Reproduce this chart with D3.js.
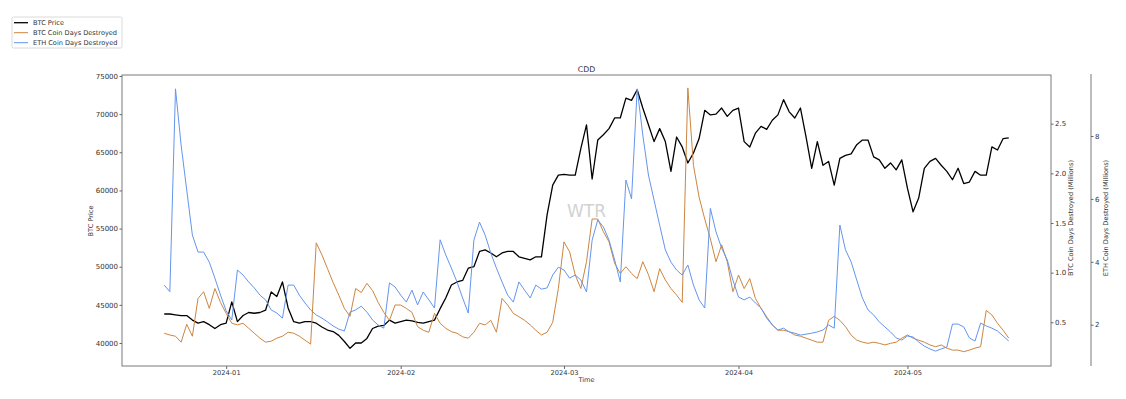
<!DOCTYPE html>
<html>
<head>
<meta charset="utf-8">
<script src="https://cdn.jsdelivr.net/npm/d3@7"></script>
<style>
  body { margin: 0; background: #fff; }
  text { font-family: "DejaVu Sans", sans-serif; fill: #333; }
</style>
</head>
<body>
<div id="chart"></div>
<script>
// daily samples, first day 2023-12-21
const startDay = new Date(Date.UTC(2023, 11, 21));

const btcPrice = [
  43800, 43800, 43700, 43600, 43600, 43000, 42600, 42800, 42400, 41900,
  42400, 42600, 45400, 42800, 43600, 44000, 43900, 44000, 44300, 46700,
  46100, 48000, 44600, 42800, 42600, 42800, 42800, 42600, 42100, 41700,
  41500, 41000, 40200, 39300, 40000, 40000, 40600, 41900, 42200, 42300,
  43000, 42600, 42800, 43000, 42900, 42700, 42600, 42800, 43000, 44500,
  45900, 47600, 48000, 48200, 49800, 50000, 52000, 52200, 51800, 51300,
  51800, 52000, 52000, 51300, 51100, 50900, 51300, 51300, 56800, 60700,
  62000, 62100, 62000, 62000, 65500, 68600, 61500, 66600, 67300, 68100,
  69500, 69500, 72100, 71800, 73200, 70800, 68600, 66400, 68100, 66400,
  62500, 67000, 65700, 63600, 64900, 66800, 70500, 69900, 70000, 70800,
  69700, 70500, 70800, 66400, 65700, 67500, 68400, 68000, 69200, 69900,
  71900, 70300, 69500, 70800, 67000, 62900, 66400, 63300, 63800, 60700,
  64200, 64600, 64800, 66000, 66600, 66600, 64400, 64000, 62900, 63600,
  62700, 64000, 60300, 57200, 59000, 62900, 63800, 64200, 63300, 62500,
  61400, 62900, 60900, 61100, 62500, 62000, 62000, 65700, 65300, 66800,
  66900
];

// millions
const btcCdd = [
  0.39, 0.372, 0.36, 0.30, 0.48, 0.36, 0.74, 0.808, 0.64, 0.84,
  0.70, 0.59, 0.49, 0.474, 0.49, 0.44, 0.39, 0.34, 0.30, 0.31,
  0.34, 0.36, 0.40, 0.39, 0.36, 0.32, 0.28, 1.30, 1.18, 1.04,
  0.90, 0.774, 0.64, 0.56, 0.84, 0.80, 0.892, 0.82, 0.70, 0.60,
  0.52, 0.674, 0.674, 0.64, 0.60, 0.456, 0.42, 0.40, 0.59, 0.49,
  0.44, 0.406, 0.39, 0.354, 0.34, 0.40, 0.49, 0.474, 0.52, 0.40,
  0.74, 0.674, 0.59, 0.556, 0.52, 0.474, 0.42, 0.372, 0.40, 0.50,
  0.84, 1.31, 1.21, 0.976, 0.84, 1.11, 1.54, 1.54, 1.412, 1.31,
  1.094, 0.992, 1.06, 0.992, 0.94, 1.11, 0.98, 0.808, 1.04, 0.926,
  0.84, 0.774, 0.70, 2.86, 2.08, 1.76, 1.54, 1.34, 1.11, 1.28,
  1.11, 0.808, 0.976, 0.84, 0.94, 0.74, 0.64, 0.556, 0.474, 0.42,
  0.42, 0.406, 0.372, 0.36, 0.34, 0.32, 0.30, 0.30, 0.52, 0.56,
  0.52, 0.456, 0.372, 0.32, 0.30, 0.288, 0.30, 0.288, 0.272, 0.288,
  0.30, 0.34, 0.372, 0.34, 0.32, 0.30, 0.272, 0.254, 0.272, 0.24,
  0.22, 0.22, 0.204, 0.22, 0.24, 0.254, 0.62, 0.574, 0.49, 0.42,
  0.34
];

// millions
const ethCdd = [
  3.26, 3.05, 9.5, 7.71, 6.28, 4.85, 4.31, 4.31, 3.99, 3.48,
  2.94, 2.44, 2.15, 3.74, 3.58, 3.36, 3.17, 2.94, 2.79, 2.47,
  2.37, 2.21, 3.26, 3.26, 2.94, 2.69, 2.47, 2.31, 2.21, 2.09,
  1.96, 1.86, 1.80, 2.40, 2.47, 2.59, 2.40, 2.15, 1.99, 1.89,
  3.33, 3.20, 2.94, 2.72, 3.10, 2.63, 3.04, 2.79, 2.53, 4.70,
  4.22, 3.80, 3.36, 2.85, 2.37, 4.69, 5.26, 4.85, 4.28, 3.80,
  3.36, 2.94, 2.72, 3.36, 3.10, 2.85, 3.26, 3.13, 3.17, 3.58,
  3.83, 3.74, 3.48, 3.58, 3.42, 3.04, 4.69, 5.33, 5.11, 4.69,
  4.06, 3.36, 6.60, 6.00, 9.50, 8.03, 6.76, 5.96, 5.16, 4.38,
  3.99, 3.74, 3.58, 3.90, 3.26, 2.79, 2.53, 5.70, 4.95, 4.44,
  4.06, 3.42, 2.88, 2.79, 2.88, 2.69, 2.53, 2.21, 1.99, 1.83,
  1.89, 1.77, 1.73, 1.67, 1.70, 1.73, 1.77, 1.83, 1.99, 1.89,
  5.17, 4.38, 4.00, 3.42, 2.85, 2.47, 2.31, 2.09, 1.93, 1.77,
  1.58, 1.51, 1.64, 1.61, 1.45, 1.32, 1.23, 1.16, 1.23, 1.29,
  2.02, 2.02, 1.93, 1.58, 1.48, 2.05, 1.96, 1.89, 1.80, 1.64,
  1.48
];

const dates = btcPrice.map((_, i) => d3.utcDay.offset(startDay, i));

const priceTicks = [40000, 45000, 50000, 55000, 60000, 65000, 70000, 75000];
const btcCddTicks = [0.5, 1.0, 1.5, 2.0, 2.5];
const ethCddTicks = [2, 4, 6, 8];
const monthTicks = d3.utcMonth.range(new Date(Date.UTC(2024, 0, 1)), new Date(Date.UTC(2024, 5, 1)));

const seriesNames = ['BTC Price', 'BTC Coin Days Destroyed', 'ETH Coin Days Destroyed'];
const seriesColors = ['#000000', '#cd853f', '#6495ed'];

const width = 1126, height = 399;
const margin = {top: 75, right: 75, bottom: 33, left: 122};
const plotW = 1051 - margin.left;
const plotH = 366 - margin.top;

const svg = d3.select('#chart').append('svg')
  .attr('width', width)
  .attr('height', height)
  .style('background', '#fff');

// x domain padded like matplotlib (5% each side)
const span = 150 * 0.05;
const x = d3.scaleUtc()
  .domain([d3.utcHour.offset(dates[0], -span * 24), d3.utcHour.offset(dates[dates.length - 1], span * 24)])
  .range([margin.left, margin.left + plotW]);

const yPrice = d3.scaleLinear().domain([36985, 75130]).range([366, 75]);
const yBtc = d3.scaleLinear().domain([0.06, 2.99]).range([366, 75]);
const yEth = d3.scaleLinear().domain([0.687, 9.94]).range([366, 75]);

// watermark
svg.append('text')
  .attr('x', margin.left + plotW / 2)
  .attr('y', 217)
  .attr('text-anchor', 'middle')
  .style('font-size', '17px')
  .style('fill', '#d2d2d2')
  .text('WTR');

svg.append('clipPath').attr('id', 'plot-clip')
  .append('rect')
  .attr('x', margin.left).attr('y', margin.top)
  .attr('width', plotW).attr('height', plotH);

const lines = svg.append('g').attr('clip-path', 'url(#plot-clip)');

const drawLine = (values, yScale, color, w) => {
  lines.append('path')
    .datum(values)
    .attr('fill', 'none')
    .attr('stroke', color)
    .attr('stroke-width', w)
    .attr('stroke-linejoin', 'round')
    .attr('d', d3.line()
      .x((d, i) => x(dates[i]))
      .y(d => yScale(d)));
};

drawLine(btcPrice, yPrice, seriesColors[0], 1.3);
drawLine(btcCdd, yBtc, seriesColors[1], 1);
drawLine(ethCdd, yEth, seriesColors[2], 1);

// frame
svg.append('rect')
  .attr('x', margin.left).attr('y', margin.top)
  .attr('width', plotW).attr('height', plotH)
  .attr('fill', 'none')
  .attr('stroke', '#7a7a7a')
  .attr('stroke-width', 1);

const styleAxis = (g, fs) => {
  g.select('.domain').remove();
  g.selectAll('.tick line').attr('stroke', '#666');
  g.selectAll('.tick text')
    .style('font-family', '"DejaVu Sans", sans-serif')
    .style('font-size', fs)
    .attr('fill', '#333');
};

svg.append('g')
  .attr('transform', `translate(0,${366})`)
  .call(d3.axisBottom(x).tickValues(monthTicks).tickFormat(d3.utcFormat('%Y-%m')).tickSize(3).tickPadding(1.5))
  .call(g => styleAxis(g, '6.7px'));

svg.append('g')
  .attr('transform', `translate(${margin.left},0)`)
  .call(d3.axisLeft(yPrice).tickValues(priceTicks).tickFormat(d3.format('d')).tickSize(2.5).tickPadding(1.5))
  .call(g => styleAxis(g, '7px'));

svg.append('g')
  .attr('transform', `translate(${margin.left + plotW},0)`)
  .call(d3.axisRight(yBtc).tickValues(btcCddTicks).tickFormat(d3.format('.1f')).tickSize(2.5).tickPadding(1.5))
  .call(g => styleAxis(g, '7px'));

// third axis, offset spine
svg.append('line')
  .attr('x1', 1091).attr('x2', 1091)
  .attr('y1', 74).attr('y2', 366)
  .attr('stroke', '#7a7a7a');

svg.append('g')
  .attr('transform', `translate(1091,0)`)
  .call(d3.axisRight(yEth).tickValues(ethCddTicks).tickFormat(d3.format('d')).tickSize(2.5).tickPadding(1.5))
  .call(g => styleAxis(g, '7px'));

// titles and labels
svg.append('text')
  .attr('x', margin.left + plotW / 2).attr('y', 72)
  .attr('text-anchor', 'middle')
  .style('font-size', '7.8px')
  .text('CDD');

svg.append('text')
  .attr('x', margin.left + plotW / 2).attr('y', 382)
  .attr('text-anchor', 'middle')
  .style('font-size', '6.6px')
  .text('Time');

const vLabel = (cx, cy, label) => {
  svg.append('text')
    .attr('transform', `translate(${cx},${cy}) rotate(-90)`)
    .attr('text-anchor', 'middle')
    .attr('dy', '0.35em')
    .style('font-size', '6.6px')
    .text(label);
};

vLabel(91, 221, 'BTC Price');
vLabel(1071, 218, 'BTC Coin Days Destroyed (Millions)');
vLabel(1106, 218, 'ETH Coin Days Destroyed (Millions)');

// legend
const legend = svg.append('g').attr('transform', 'translate(12,17)');

legend.append('rect')
  .attr('width', 110).attr('height', 31)
  .attr('rx', 1.5)
  .attr('fill', '#fff')
  .attr('stroke', '#d0d0d0')
  .attr('stroke-width', 0.8);

const items = legend.selectAll('g.item')
  .data(seriesNames)
  .enter().append('g')
  .attr('class', 'item')
  .attr('transform', (d, i) => `translate(0,${5.7 + i * 10})`);

items.append('line')
  .attr('x1', 2).attr('x2', 16)
  .attr('stroke', (d, i) => seriesColors[i])
  .attr('stroke-width', (d, i) => i === 0 ? 1.3 : 1);

items.append('text')
  .attr('x', 21)
  .attr('dy', '0.35em')
  .style('font-size', '6.6px')
  .text(d => d);
</script>
</body>
</html>
